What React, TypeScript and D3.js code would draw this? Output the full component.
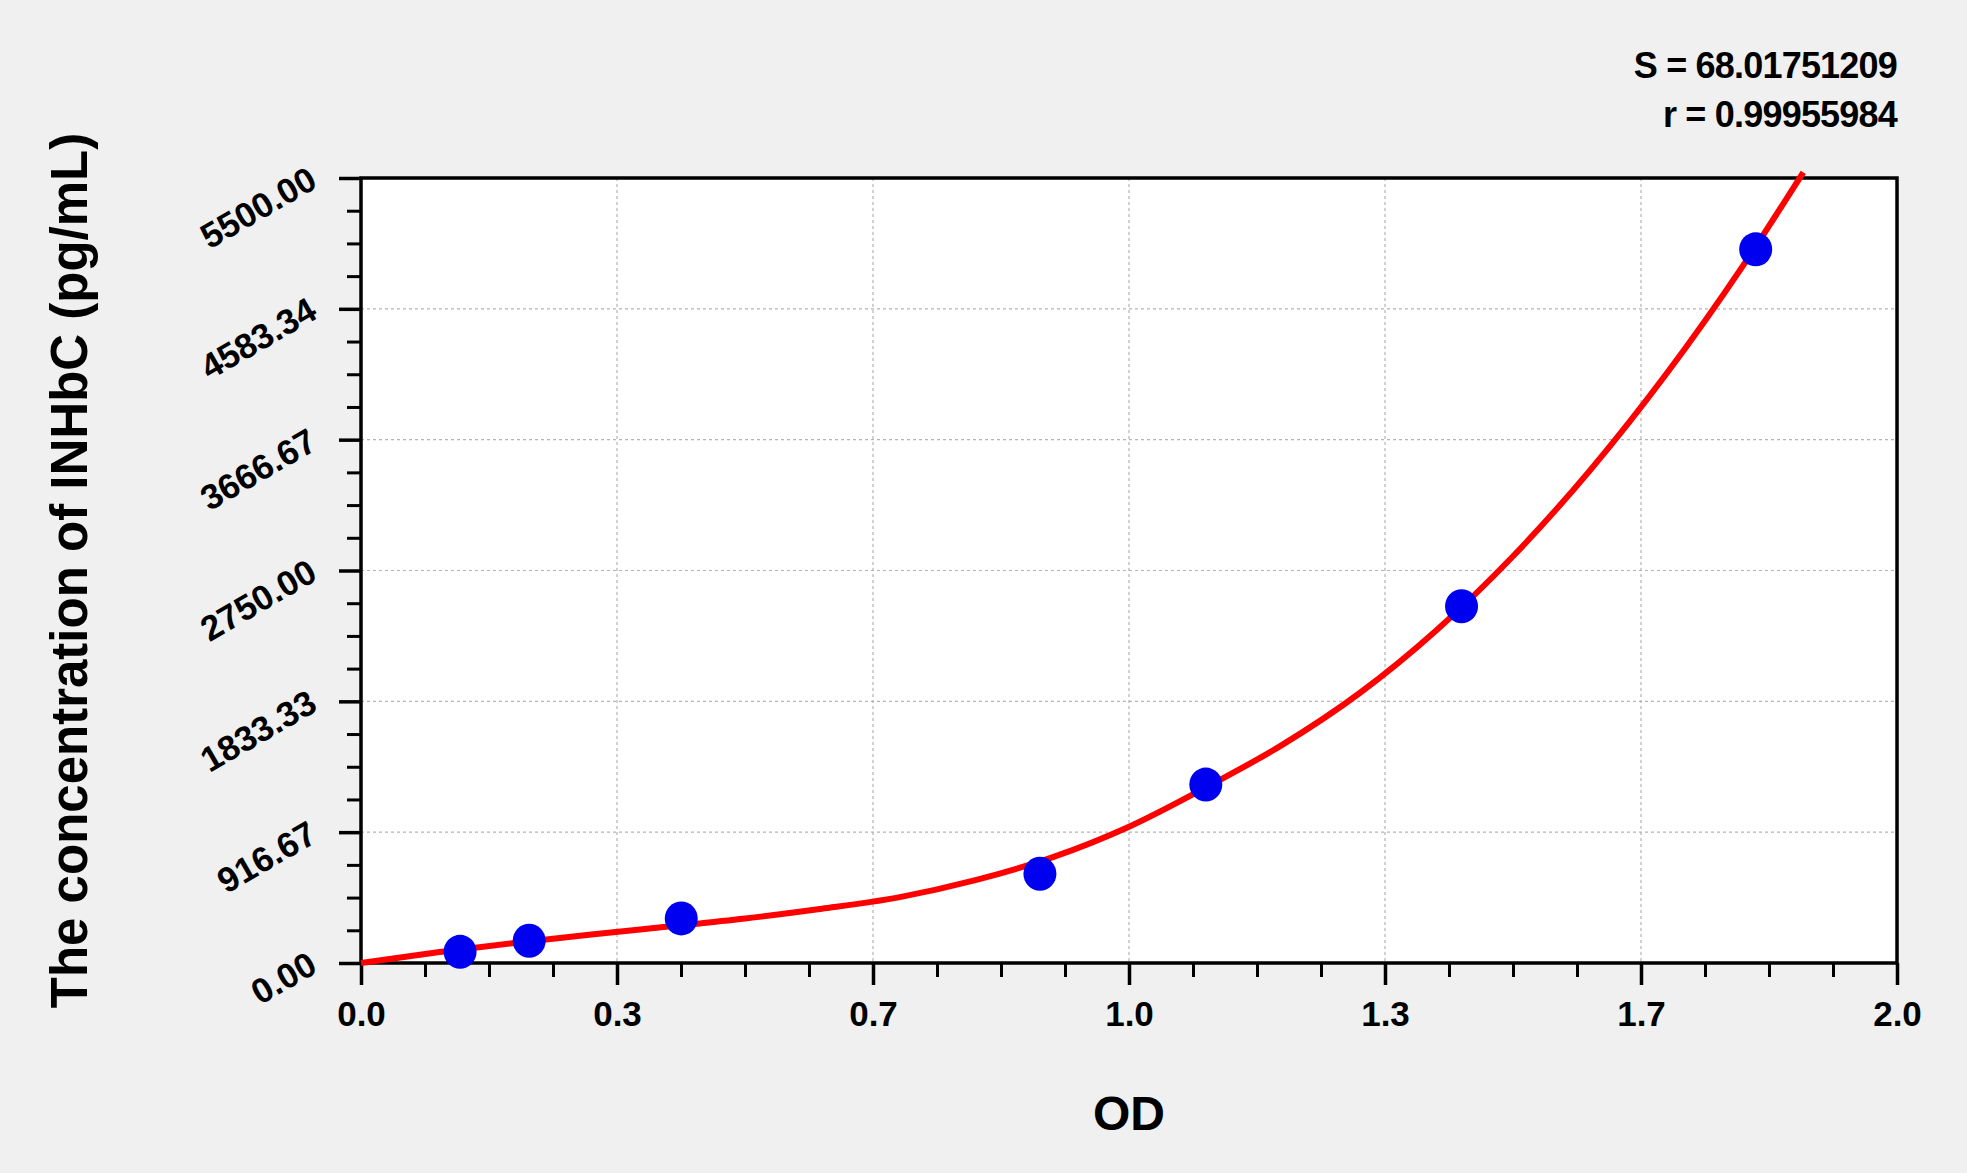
import { useRef, useEffect } from 'react';
import { select, scaleLinear, axisLeft, axisBottom, line, curveMonotoneX, range } from 'd3';

// standards: measured OD vs. known concentration
const odValues = [0.129, 0.219, 0.417, 0.884, 1.1, 1.433, 1.816];
const concValues = [78.13, 156.25, 312.5, 625, 1250, 2500, 5000];

// fitted curve
const curveOd = [0, 0.1, 0.2, 0.3, 0.4, 0.5, 0.6, 0.7, 0.8, 0.9, 1.0, 1.1, 1.2, 1.3, 1.4, 1.5, 1.6, 1.7, 1.8, 1.878];
const curveConc = [0, 75, 140, 200, 255, 312, 380, 460, 580, 740, 955, 1230, 1530, 1890, 2330, 2850, 3450, 4130, 4890, 5540];

const xTickLabels = ['0.0', '0.3', '0.7', '1.0', '1.3', '1.7', '2.0'];
const yTickLabels = ['0.00', '916.67', '1833.33', '2750.00', '3666.67', '4583.34', '5500.00'];

const statsLines = ['S = 68.01751209', 'r = 0.99955984'];
const xTitle = 'OD';
const yTitle = 'The concentration of INHbC (pg/mL)';

const W = 1967;
const H = 1173;
const LEFT = 361;
const RIGHT = 1897;
const TOP = 178;
const BOTTOM = 963;
const X_MAX = 2;
const Y_MAX = 5500;
const FONT = '"Liberation Sans", Arial, sans-serif';

export default function App() {
  const svgRef = useRef<SVGSVGElement>(null);

  useEffect(() => {
    const svg = select(svgRef.current!);
    svg.selectAll('*').remove();

    const x = scaleLinear().domain([0, X_MAX]).range([LEFT, RIGHT]);
    const y = scaleLinear().domain([0, Y_MAX]).range([BOTTOM, TOP]);

    const xMajor = xTickLabels.map((_, i) => (i * X_MAX) / (xTickLabels.length - 1));
    const yMajor = yTickLabels.map((_, i) => (i * Y_MAX) / (yTickLabels.length - 1));
    const xMinor = range(0, 25).map((i) => (i * X_MAX) / 24).filter((v, i) => i % 4 !== 0);
    const yMinor = range(0, 25).map((i) => (i * Y_MAX) / 24).filter((v, i) => i % 4 !== 0);

    svg.append('rect').attr('width', W).attr('height', H).attr('fill', '#f0f0f0');
    svg
      .append('rect')
      .attr('x', LEFT)
      .attr('y', TOP)
      .attr('width', RIGHT - LEFT)
      .attr('height', BOTTOM - TOP)
      .attr('fill', '#ffffff');

    // dashed grid at major ticks
    const grid = svg.append('g').attr('stroke', '#b4b4b4').attr('stroke-width', 1.2).attr('stroke-dasharray', '3,3');
    grid
      .selectAll('line.gx')
      .data(xMajor.slice(1, -1))
      .enter()
      .append('line')
      .attr('x1', (d) => x(d))
      .attr('x2', (d) => x(d))
      .attr('y1', TOP)
      .attr('y2', BOTTOM);
    grid
      .selectAll('line.gy')
      .data(yMajor.slice(1, -1))
      .enter()
      .append('line')
      .attr('x1', LEFT)
      .attr('x2', RIGHT)
      .attr('y1', (d) => y(d))
      .attr('y2', (d) => y(d));

    // frame
    svg
      .append('rect')
      .attr('x', LEFT)
      .attr('y', TOP)
      .attr('width', RIGHT - LEFT)
      .attr('height', BOTTOM - TOP)
      .attr('fill', 'none')
      .attr('stroke', '#000')
      .attr('stroke-width', 3.5);

    // minor ticks
    svg
      .append('g')
      .attr('transform', `translate(0, ${BOTTOM})`)
      .call(axisBottom(x).tickValues(xMinor).tickSize(14).tickFormat(() => ''))
      .call((g) => g.select('.domain').remove())
      .call((g) => g.selectAll('line').attr('stroke-width', 3));
    svg
      .append('g')
      .attr('transform', `translate(${LEFT}, 0)`)
      .call(axisLeft(y).tickValues(yMinor).tickSize(14).tickFormat(() => ''))
      .call((g) => g.select('.domain').remove())
      .call((g) => g.selectAll('line').attr('stroke-width', 3));

    // major ticks + labels
    const xAxis = svg
      .append('g')
      .attr('transform', `translate(0, ${BOTTOM})`)
      .call(
        axisBottom(x)
          .tickValues(xMajor)
          .tickSize(22)
          .tickPadding(16)
          .tickFormat((_, i) => xTickLabels[i]),
      );
    xAxis.select('.domain').remove();
    xAxis.selectAll('line').attr('stroke-width', 3.5);
    xAxis
      .selectAll('text')
      .attr('font-family', FONT)
      .attr('font-weight', 'bold')
      .attr('font-size', 35)
      .attr('fill', '#000');

    const yAxis = svg
      .append('g')
      .attr('transform', `translate(${LEFT}, 0)`)
      .call(
        axisLeft(y)
          .tickValues(yMajor)
          .tickSize(22)
          .tickFormat((_, i) => yTickLabels[i]),
      );
    yAxis.select('.domain').remove();
    yAxis.selectAll('line').attr('stroke-width', 3.5);
    yAxis
      .selectAll('text')
      .attr('x', null)
      .attr('dy', null)
      .attr('text-anchor', 'end')
      .attr('transform', 'translate(-42, 8) rotate(-30)')
      .attr('font-family', FONT)
      .attr('font-weight', 'bold')
      .attr('font-size', 35)
      .attr('fill', '#000');

    // fitted curve
    const pts: [number, number][] = curveOd.map((d, i) => [d, curveConc[i]]);
    svg
      .append('path')
      .datum(pts)
      .attr('fill', 'none')
      .attr('stroke', '#ff0000')
      .attr('stroke-width', 6)
      .attr('stroke-linejoin', 'round')
      .attr(
        'd',
        line<[number, number]>()
          .curve(curveMonotoneX)
          .x(([a]) => x(a))
          .y(([, b]) => y(b)),
      );

    // standards
    svg
      .append('g')
      .selectAll('ellipse')
      .data(odValues)
      .enter()
      .append('ellipse')
      .attr('cx', (d) => x(d))
      .attr('cy', (_, i) => y(concValues[i]))
      .attr('rx', 16.5)
      .attr('ry', 17)
      .attr('fill', '#0000f0');

    // titles
    svg
      .append('text')
      .attr('x', (LEFT + RIGHT) / 2)
      .attr('y', 1130)
      .attr('text-anchor', 'middle')
      .attr('font-family', FONT)
      .attr('font-weight', 'bold')
      .attr('font-size', 48)
      .text(xTitle);
    svg
      .append('text')
      .attr('transform', `translate(87, ${(TOP + BOTTOM) / 2}) rotate(-90)`)
      .attr('text-anchor', 'middle')
      .attr('font-family', FONT)
      .attr('font-weight', 'bold')
      .attr('font-size', 51)
      .text(yTitle);

    svg
      .append('g')
      .selectAll('text')
      .data(statsLines)
      .enter()
      .append('text')
      .attr('x', RIGHT)
      .attr('y', (_, i) => 78 + i * 49)
      .attr('text-anchor', 'end')
      .attr('font-family', FONT)
      .attr('font-weight', 'bold')
      .attr('font-size', 36)
      .attr('letter-spacing', -0.8)
      .text((d) => d);
  }, []);

  return (
    <svg
      ref={svgRef}
      width={W}
      height={H}
      style={{ position: 'absolute', left: 0, top: 0, display: 'block' }}
    />
  );
}
